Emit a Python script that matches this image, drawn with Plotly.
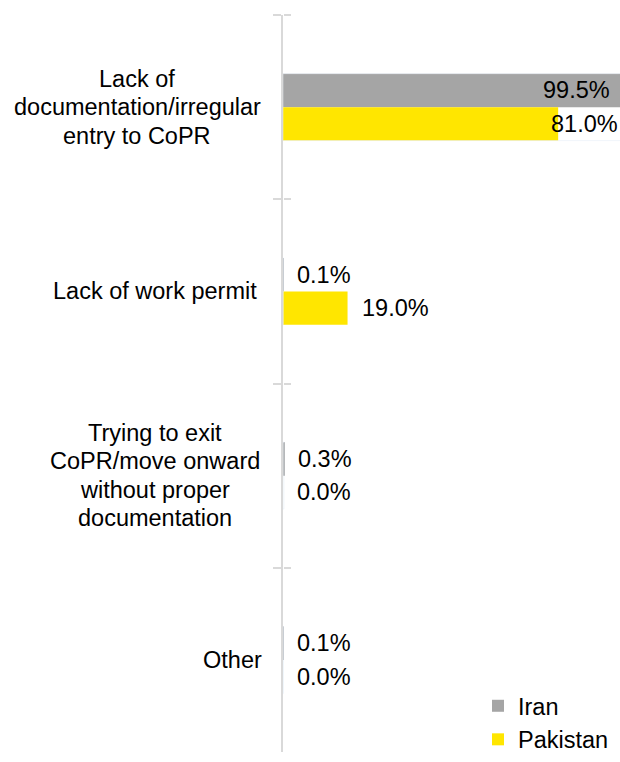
import plotly.graph_objects as go

# Reasons for detention / deportation, share of respondents by host country
categories = [
    "Lack of<br>documentation/irregular<br>entry to CoPR",
    "Lack of work permit",
    "Trying to exit<br>CoPR/move onward<br>without proper<br>documentation",
    "Other",
]
iran = [99.5, 0.1, 0.3, 0.1]
pakistan = [81.0, 19.0, 0.0, 0.0]

series = [("Iran", iran, "#A5A5A5"), ("Pakistan", pakistan, "#FFE600")]

FONT = "Liberation Sans, Arial, sans-serif"
FS = 23.5
AXIS_GREY = "#D9D9D9"

W, H = 620, 762
M_L, M_R, M_T, M_B = 283, 0, 15, 9
X_MAX = 99.2
BARGAP = 0.637
LINE_PX = 28.5

fig = go.Figure()
for name, vals, color in series:
    fig.add_trace(go.Bar(
        name=name, x=vals, y=categories, orientation="h",
        marker=dict(color=color, line=dict(width=0)),
        hoverinfo="skip",
    ))

# transparent copy on an overlaid axis, used only to draw right-side ticks
fig.add_trace(go.Bar(
    x=iran, y=categories, orientation="h", yaxis="y2",
    marker=dict(color="rgba(0,0,0,0)"), showlegend=False, hoverinfo="skip",
))

# value labels: outside the bar end, pulled back inside the plot when they would overflow
plot_w = W - M_L - M_R
px_per_unit = plot_w / X_MAX
band_px = (H - M_T - M_B) / len(categories)
bar_px = band_px * (1 - BARGAP) / len(series)
annotations = []
for si, (name, vals, color) in enumerate(series):
    yshift = bar_px / 2 if si == 0 else -bar_px / 2
    for cat, v in zip(categories, vals):
        txt = f"{v:.1f}%"
        est_w = 2.9 * FS
        if v >= 95:
            ann = dict(x=X_MAX, xanchor="right", xshift=-8)
        elif v * px_per_unit + 14 + est_w > plot_w:
            ann = dict(x=X_MAX, xanchor="right", xshift=0)
        else:
            ann = dict(x=v, xanchor="left", xshift=12)
        ann.update(
            text=txt, y=cat, xref="x", yref="y", yshift=yshift,
            showarrow=False, yanchor="middle",
            font=dict(family=FONT, size=FS, color="#000000"),
        )
        annotations.append(ann)

# category labels: each line centred on the widest line of its block,
# block right edge set a fixed distance left of the axis
def text_w(s):
    # rough Arial advance widths (em) for centring the wrapped lines
    narrow = "ilIjtf/ r"
    wide = "mwMWCDGHNOQRU"
    w = 0.0
    for ch in s:
        if ch in "il":
            w += 0.222
        elif ch in "ftrI/ ":
            w += 0.29
        elif ch in "mM":
            w += 0.833
        elif ch in "wW":
            w += 0.75
        elif ch.isupper():
            w += 0.69
        else:
            w += 0.556
    return w * FS

RIGHT_GAP = 23
for cat in categories:
    lines = cat.split("<br>")
    block_w = max(text_w(l) for l in lines)
    n = len(lines)
    for i, line in enumerate(lines):
        annotations.append(dict(
            text=line, x=0, y=cat, xref="paper", yref="y",
            xanchor="center", yanchor="middle",
            xshift=-RIGHT_GAP - block_w / 2,
            yshift=((n - 1) / 2 - i) * LINE_PX,
            showarrow=False, font=dict(family=FONT, size=FS, color="#000000"),
        ))

cat_range = [len(categories) - 0.5, -0.5]
fig.update_layout(
    width=W, height=H,
    margin=dict(l=M_L, r=M_R, t=M_T, b=M_B, pad=0),
    paper_bgcolor="white", plot_bgcolor="white",
    barmode="group", bargap=BARGAP, bargroupgap=0,
    font=dict(family=FONT, size=FS, color="#000000"),
    xaxis=dict(range=[0, X_MAX], visible=False, fixedrange=True),
    yaxis=dict(
        type="category", categoryorder="array", categoryarray=categories,
        range=cat_range, showticklabels=False,
        showline=True, linecolor=AXIS_GREY, linewidth=2,
        ticks="outside", tickson="boundaries", ticklen=8, tickwidth=2,
        tickcolor=AXIS_GREY, showgrid=False, zeroline=False,
    ),
    yaxis2=dict(
        type="category", categoryorder="array", categoryarray=categories,
        range=cat_range, overlaying="y", anchor="free", position=0,
        side="right", showticklabels=False, showline=False,
        ticks="outside", tickson="boundaries", ticklen=7, tickwidth=2,
        tickcolor=AXIS_GREY, showgrid=False, zeroline=False,
    ),
    legend=dict(
        x=1 - 6 / plot_w, xanchor="right", y=-10 / (H - M_T - M_B), yanchor="bottom",
        traceorder="normal", bgcolor="rgba(0,0,0,0)",
        font=dict(family=FONT, size=FS, color="#000000"),
        itemclick=False, itemdoubleclick=False,
    ),
    annotations=annotations,
    showlegend=True,
)

fig.write_html("out.html", config={"displayModeBar": False})
